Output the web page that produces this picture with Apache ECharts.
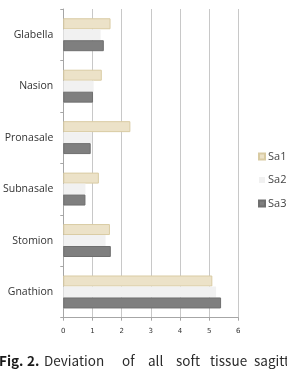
<!DOCTYPE html>
<html>
<head>
<meta charset="utf-8">
<script src="https://cdn.jsdelivr.net/npm/echarts@6/dist/echarts.min.js"></script>
<style>
  html, body { margin: 0; padding: 0; background: #fff; }
  #chart { width: 287px; height: 370px; }
</style>
</head>
<body>
<div id="chart"></div>
<script>
// 측정점 (위에서 아래로)
const categories = ['Glabella', 'Nasion', 'Pronasale', 'Subnasale', 'Stomion', 'Gnathion']
const sa1 = [1.62, 1.32, 2.30, 1.22, 1.60, 5.11]
const sa2 = [1.28, 1.04, 0.98, 0.76, 1.45, 5.24]
const sa3 = [1.39, 1.02, 0.94, 0.76, 1.63, 5.41]
const xTicks = [0, 1, 2, 3, 4, 5, 6]

const captionWords = [
  { text: 'Fig.', x: -1, bold: true },
  { text: '2.', x: 27, bold: true },
  { text: 'Deviation', x: 44 },
  { text: 'of', x: 122 },
  { text: 'all', x: 148 },
  { text: 'soft', x: 176 },
  { text: 'tissue', x: 210 },
  { text: 'sagitta', x: 254 },
]

const chart = echarts.init(document.getElementById('chart'), null, { renderer: 'canvas' })

chart.setOption({
  animation: false,
  backgroundColor: '#fff',
  grid: { left: 60, right: 48.7, top: 9, bottom: 52.3, containLabel: false },
  legend: {
    orient: 'vertical',
    left: 253,
    top: 146,
    itemWidth: 6,
    itemHeight: 6,
    itemGap: 12.5,
    icon: 'rect',
    textStyle: { fontFamily: 'Open Sans', fontSize: 11, color: '#444', padding: [0, 0, 0, -2] },
    data: ['Sa1', 'Sa2', 'Sa3']
  },
  xAxis: {
    type: 'value',
    min: xTicks[0],
    max: xTicks[xTicks.length - 1],
    interval: 1,
    axisLine: { show: true, lineStyle: { color: '#a6a6a6' } },
    axisTick: { show: true, length: 3, lineStyle: { color: '#a6a6a6' } },
    axisLabel: { fontFamily: 'DejaVu Sans', fontSize: 7, color: '#333', margin: 10 },
    splitLine: { show: true, lineStyle: { color: '#c8c8c8', width: 1 } }
  },
  yAxis: {
    type: 'category',
    inverse: true,
    data: categories,
    axisLine: { show: true, lineStyle: { color: '#a6a6a6' } },
    axisTick: { show: true, length: 3, lineStyle: { color: '#a6a6a6' } },
    axisLabel: { fontFamily: 'Open Sans', fontSize: 10.5, color: '#333', margin: 10 }
  },
  series: [
    {
      name: 'Sa1', type: 'bar', data: sa1,
      barGap: '0%', barCategoryGap: '36%',
      itemStyle: { color: '#ece2c8', borderColor: '#d9cba3', borderWidth: 1 }
    },
    {
      name: 'Sa2', type: 'bar', data: sa2,
      barGap: '0%', barCategoryGap: '36%',
      itemStyle: { color: '#f1f1f1' }
    },
    {
      name: 'Sa3', type: 'bar', data: sa3,
      barGap: '0%', barCategoryGap: '36%',
      itemStyle: { color: '#7f7f7f', borderColor: '#6f6f6f', borderWidth: 1 }
    }
  ],
  graphic: captionWords.map(w => ({
    type: 'text',
    left: w.x,
    top: 354,
    style: {
      text: w.text,
      fontFamily: 'Noto Sans CJK KR',
      fontSize: 13.5,
      fontWeight: w.bold ? 'bold' : 'normal',
      fill: w.bold ? '#1a1a1a' : '#2a2a2a'
    }
  }))
})
</script>
</body>
</html>
